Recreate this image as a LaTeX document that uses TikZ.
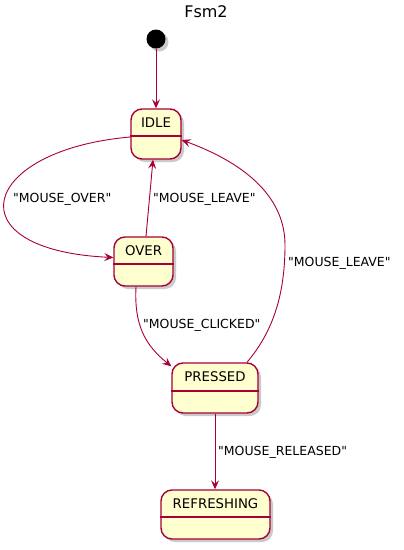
\documentclass[tikz,border=0pt]{standalone}
\usepackage{fontspec}
\setmainfont{DejaVu Sans}[Ligatures=TeXOff]
\usetikzlibrary{arrows.meta,shadows,calc}
\definecolor{umlred}{HTML}{A80036}
\definecolor{umlfill}{HTML}{FEFECE}
\tikzset{
  statebox/.style={draw=umlred, fill=umlfill, line width=1.4pt, rounded corners=11pt,
    inner sep=0pt, drop shadow={shadow xshift=3pt, shadow yshift=-3pt, opacity=0.35, fill=black!60}},
  statename/.style={inner sep=0pt, font=\fontsize{13.3}{15}\selectfont},
  sepline/.style={draw=umlred, line width=1.2pt},
  trans/.style={draw=umlred, line width=0.9pt, -{Stealth[length=9pt,width=8pt,inset=3.5pt]}},
  translabel/.style={inner sep=0pt, anchor=west, font=\fontsize{12.5}{14}\selectfont},
}
\begin{document}
\begin{tikzpicture}[x=1pt,y=-1pt]
\useasboundingbox (0,0) rectangle (404,550);
% title
\node[inner sep=0pt, font=\fontsize{16}{18}\selectfont] (title) at (206,12) {Fsm2};
% start
\node[circle, fill=black, minimum size=19pt, inner sep=0pt,
  drop shadow={shadow xshift=3pt, shadow yshift=-3pt, opacity=0.35, fill=black!60}] (start) at (156,39) {};
% states
\node[statebox, minimum width=50pt, minimum height=50pt] (idle) at (156,134) {};
\node[statename] (idlet) at (156,122.5) {IDLE};
\draw[sepline] (idle.west |- 0,136) -- (idle.east |- 0,136);

\node[statebox, minimum width=59pt, minimum height=49pt] (over) at (143.5,261.5) {};
\node[statename] (overt) at (143.5,250.5) {OVER};
\draw[sepline] (over.west |- 0,264) -- (over.east |- 0,264);

\node[statebox, minimum width=86pt, minimum height=50pt] (pressed) at (215,388) {};
\node[statename] (pressedt) at (215,377) {PRESSED};
\draw[sepline] (pressed.west |- 0,391) -- (pressed.east |- 0,391);

\node[statebox, minimum width=109pt, minimum height=49pt] (refr) at (215.5,514.5) {};
\node[statename] (refrt) at (215.5,503.5) {REFRESHING};
\draw[sepline] (refr.west |- 0,517) -- (refr.east |- 0,517);

% transitions
\draw[trans] (start) -- (idle.north);
\draw[trans] ([yshift=-3pt]idle.west) .. controls (-20,150) and (-48,250) .. ([yshift=4pt]over.west);
\draw[trans] ([xshift=2.5pt]over.north) -- ([xshift=-3pt]idle.south);
\draw[trans] ([xshift=-7.5pt]over.south) .. controls (134,325) and (145,345) .. ([yshift=-4pt]pressed.north west);
\draw[trans] ([xshift=32pt]pressed.north) .. controls (270,335) and (285,300) .. (285,245)
  .. controls (285,200) and (250,165) .. ([yshift=-6pt]idle.east);
\draw[trans] (pressed.south) -- (pressed.south |- refr.north);

% labels
\node[translabel] (l1) at (13,199) {"MOUSE\_OVER"};
\node[translabel] (l2) at (153,199) {"MOUSE\_LEAVE"};
\node[translabel] (l3) at (143,325) {"MOUSE\_CLICKED"};
\node[translabel] (l4) at (288,263) {"MOUSE\_LEAVE"};
\node[translabel] (l5) at (218,452) {"MOUSE\_RELEASED"};
\end{tikzpicture}
\end{document}
